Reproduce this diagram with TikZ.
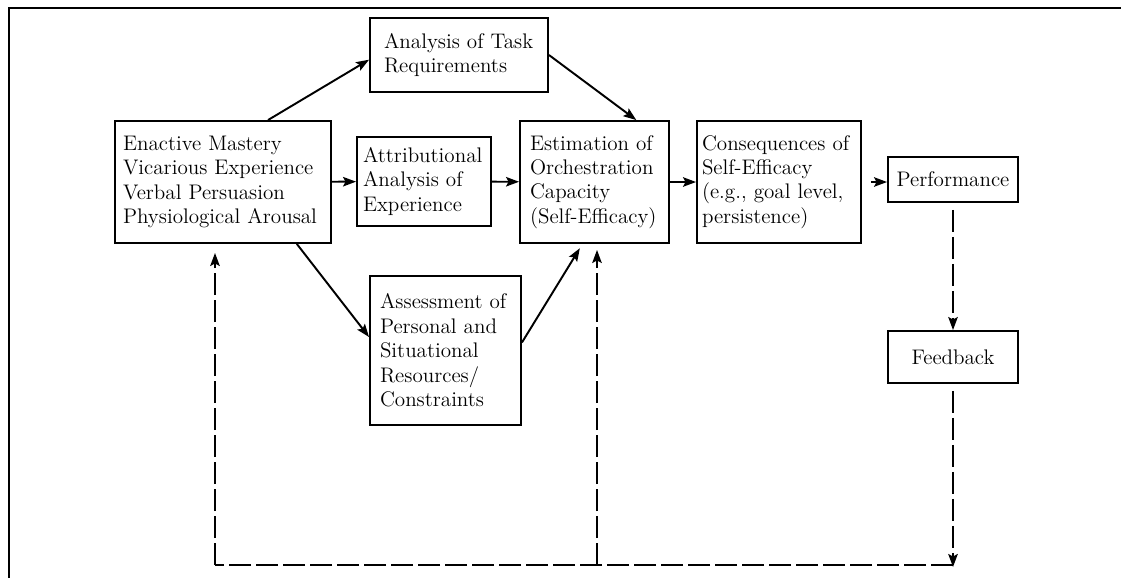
\documentclass[tikz,border=0pt]{standalone}
\usetikzlibrary{arrows.meta}
\begin{document}
\begin{tikzpicture}[x=0.02cm,y=-0.02cm,
  box/.style={draw,line width=1.1pt,rectangle,align=left,inner ysep=0pt,
    font=\fontsize{12}{13.9}\selectfont},
  link/.style={draw,line width=1.1pt,-{Stealth[length=2.6mm,width=1.9mm,inset=0.5mm]}},
  fback/.style={link,dash pattern=on 0.44cm off 0.1cm}]
\useasboundingbox (0,0) rectangle (1121,578);
\draw[line width=1pt] (1121,8) -- (9,8) -- (9,578);

\node[box,text width=4.0cm,inner xsep=0.16cm,minimum height=2.44cm] (source) at (223,182)
  {Enactive Mastery\\Vicarious Experience\\Verbal Persuasion\\Physiological Arousal};
\node[box,text width=3.0cm,inner xsep=0.28cm,minimum height=1.48cm] (task) at (459,55)
  {Analysis of Task\\Requirements};
\node[box,text width=2.44cm,inner xsep=0.12cm,minimum height=1.78cm] (attrib) at (424,181.5)
  {Attributional\\Analysis of\\Experience};
\node[box,text width=2.58cm,inner xsep=0.2cm,minimum height=2.44cm] (estim) at (594.5,182)
  {Estimation of\\Orchestration\\Capacity\\(Self-Efficacy)};
\node[box,text width=3.08cm,inner xsep=0.1cm,minimum height=2.44cm] (conseq) at (779,182)
  {Consequences of\\Self-Efficacy\\(e.g., goal level,\\persistence)};
\node[box,align=center,text width=2.3cm,inner xsep=0.15cm,minimum height=0.9cm] (perf) at (953,179.5)
  {Performance};
\node[box,align=center,text width=2.3cm,inner xsep=0.15cm,minimum height=1.04cm] (feedback) at (953,357)
  {Feedback};
\node[box,text width=2.62cm,inner xsep=0.2cm,minimum height=2.98cm] (assess) at (445.5,350.5)
  {Assessment of\\Personal and\\Situational\\Resources/\\Constraints};

\coordinate (loopR) at (953,567);
\coordinate (loopM) at (597,565);
\coordinate (loopL) at (215,565);

\path[link] (source.54) -- (task.183);
\path[link] (task.east) -- (estim.56);
\path[link] (source) -- (attrib);
\path[link] (attrib) -- (estim);
\path[link] (estim) -- (conseq);
\path[link,shorten <=0.18cm] (conseq.east) -- (conseq.east -| perf.west);
\path[link] (source.-40) -- (assess.170);
\path[link,shorten >=0.1cm] (assess.6) -- (estim.-101);

\path[fback,shorten <=0.14cm] (perf) -- (feedback);
\path[fback,shorten <=0.14cm] (feedback) -- (loopR);
\path[fback,-] (loopR |- loopM) -- (loopL);
\path[fback,shorten >=0.18cm] (loopL) -- (loopL |- source.south);
\path[fback,shorten >=0.12cm] (loopM) -- (loopM |- estim.south);
\end{tikzpicture}
\end{document}
